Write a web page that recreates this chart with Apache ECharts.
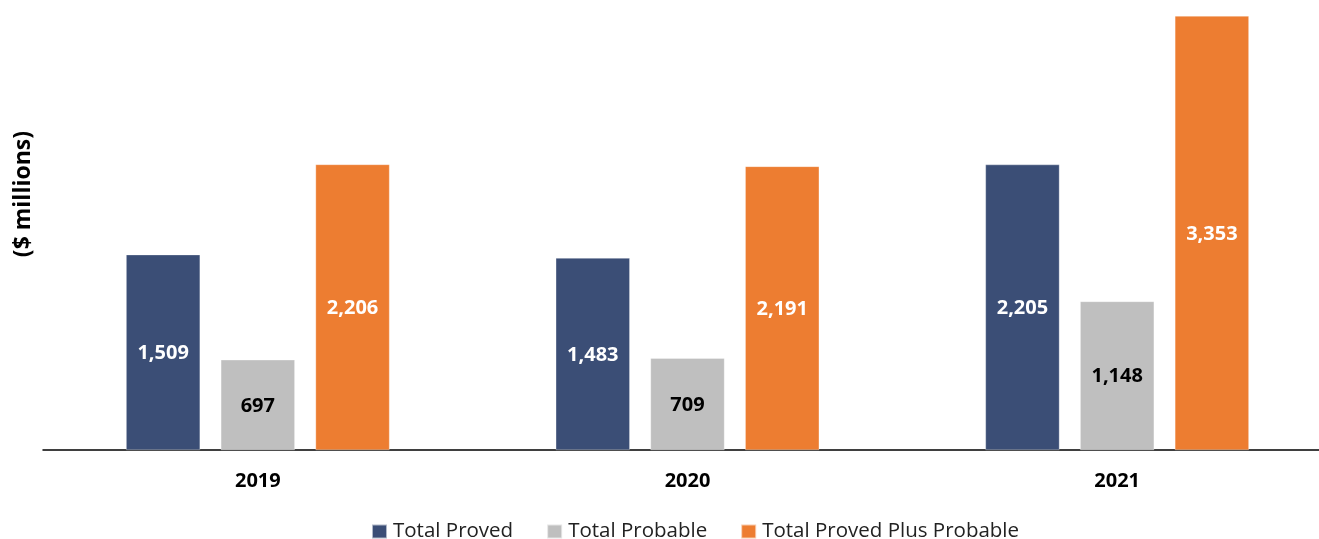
<!DOCTYPE html>
<html><head><meta charset="utf-8">
<script src="https://cdn.jsdelivr.net/npm/echarts@6/dist/echarts.min.js"></script>
<style>html,body{margin:0;padding:0;background:#fff}#c{width:1319px;height:539px}</style>
</head><body><div id="c"></div>
<script>
const categories = ['2019', '2020', '2021'];
const totalProved = [1509, 1483, 2205];
const totalProbable = [697, 709, 1148];
const totalProvedPlusProbable = [2206, 2191, 3353];
const seriesNames = ['Total Proved', 'Total Probable', 'Total Proved Plus Probable'];
const yAxisTitle = '($ millions)';

const FONT = 'Open Sans';
const chart = echarts.init(document.getElementById('c'));
const fmt = p => p.value.toLocaleString('en-US');
function mk(name, data, color, labelColor) {
  return {
    name, type: 'bar', data, barWidth: 74, barGap: '28%',
    itemStyle: { color, borderColor: 'rgba(255,255,255,0.6)', borderWidth: 0.5 },
    label: { show: true, position: 'inside', offset: [0, 1], formatter: fmt, color: labelColor,
      fontFamily: FONT, fontWeight: 'bold', fontSize: 20 }
  };
}
chart.setOption({
  animation: false,
  grid: { left: 43, top: 16, right: -13, bottom: 89, containLabel: false, outerBoundsMode: 'none' },
  legend: {
    left: 366, top: 516, itemWidth: 15, itemHeight: 14, itemGap: 33,
    icon: 'rect',
    textStyle: { fontFamily: FONT, fontSize: 20.5, color: '#222', padding: [0, 0, 0, 1] },
    data: seriesNames
  },
  graphic: [{
    type: 'text', left: 12, top: 131, rotation: Math.PI / 2,
    style: { text: yAxisTitle, fontFamily: FONT, fontWeight: 'bold', fontSize: 23, fill: '#000' }
  }],
  xAxis: {
    type: 'category', data: categories,
    axisLine: { lineStyle: { color: '#000', width: 1.5 } },
    axisTick: { show: false },
    axisLabel: { color: '#000', fontFamily: FONT, fontWeight: 'bold', fontSize: 20, margin: 21 }
  },
  yAxis: {
    type: 'value', min: 0, max: 3353,
    axisLine: { show: false }, axisTick: { show: false }, axisLabel: { show: false },
    splitLine: { show: false }
  },
  series: [
    mk(seriesNames[0], totalProved, '#3B4E76', '#fff'),
    mk(seriesNames[1], totalProbable, '#BFBFBF', '#000'),
    mk(seriesNames[2], totalProvedPlusProbable, '#ED7D31', '#fff')
  ]
});
</script></body></html>
